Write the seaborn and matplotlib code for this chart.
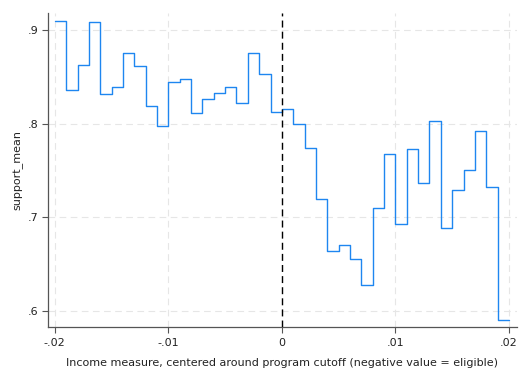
import numpy as np
import pandas as pd
import matplotlib
matplotlib.use("Agg")
import matplotlib.pyplot as plt
import seaborn as sns

# Bin left edges (width 0.001) and mean support in each bin
bin_width = 0.001
bin_left = np.round(np.arange(-0.020, 0.020, bin_width), 4)
support_mean = [
    0.909, 0.836, 0.862, 0.908, 0.831, 0.839, 0.875, 0.861, 0.819, 0.797,
    0.844, 0.848, 0.811, 0.826, 0.833, 0.839, 0.822, 0.875, 0.853, 0.812,
    0.815, 0.800, 0.774, 0.720, 0.664, 0.671, 0.656, 0.628, 0.710, 0.767,
    0.693, 0.773, 0.737, 0.803, 0.689, 0.729, 0.750, 0.792, 0.732, 0.591,
]
xticks = [-0.02, -0.01, 0.0, 0.01, 0.02]
xtick_labels = ["-.02", "-.01", "0", ".01", ".02"]
yticks = [0.6, 0.7, 0.8, 0.9]
ytick_labels = [".6", ".7", ".8", ".9"]
cutoff = 0.0

# close last step at the right bin edge
xs = list(bin_left) + [round(bin_left[-1] + bin_width, 4)]
ys = list(support_mean) + [support_mean[-1]]
df = pd.DataFrame({"x": xs, "support_mean": ys})

sns.set_theme(style="white")
plt.rcParams["font.family"] = ["DejaVu Sans"]

fig = plt.figure(figsize=(5.28, 3.84), dpi=100)
ax = fig.add_axes([0.0909, 0.1484, 0.888, 0.818])

for xt in xticks:
    ax.axvline(xt, color="#e6e6e6", lw=0.8, ls=(0, (6, 4)), zorder=0)
for yt in yticks:
    ax.axhline(yt, color="#e6e6e6", lw=0.8, ls=(0, (6, 4)), zorder=0)

sns.lineplot(data=df, x="x", y="support_mean", estimator=None, sort=True,
             drawstyle="steps-post", color="#1e86f0", lw=1.0, ax=ax, zorder=3)
ax.axvline(cutoff, color="black", lw=1.0, ls=(0, (5, 3)), zorder=4)

ax.set_xlim(-0.0206, 0.0207)
ax.set_ylim(0.583, 0.918)
ax.set_xticks(xticks)
ax.set_xticklabels(xtick_labels)
ax.set_yticks(yticks)
ax.set_yticklabels(ytick_labels)
ax.tick_params(axis="both", direction="out", length=4, width=0.8,
               color="#555555", labelsize=8, labelcolor="#222222", pad=3,
               bottom=True, left=True)
ax.tick_params(axis="x", pad=4)
for s in ["top", "right"]:
    ax.spines[s].set_visible(False)
for s in ["left", "bottom"]:
    ax.spines[s].set_color("#555555")
    ax.spines[s].set_linewidth(0.9)
ax.set_xlabel("Income measure, centered around program cutoff (negative value = eligible)",
              fontsize=8, color="#222222", labelpad=7)
ax.set_ylabel("support_mean", fontsize=8, color="#222222", labelpad=3)
ax.grid(False)

fig.savefig("out.png", dpi=100)
